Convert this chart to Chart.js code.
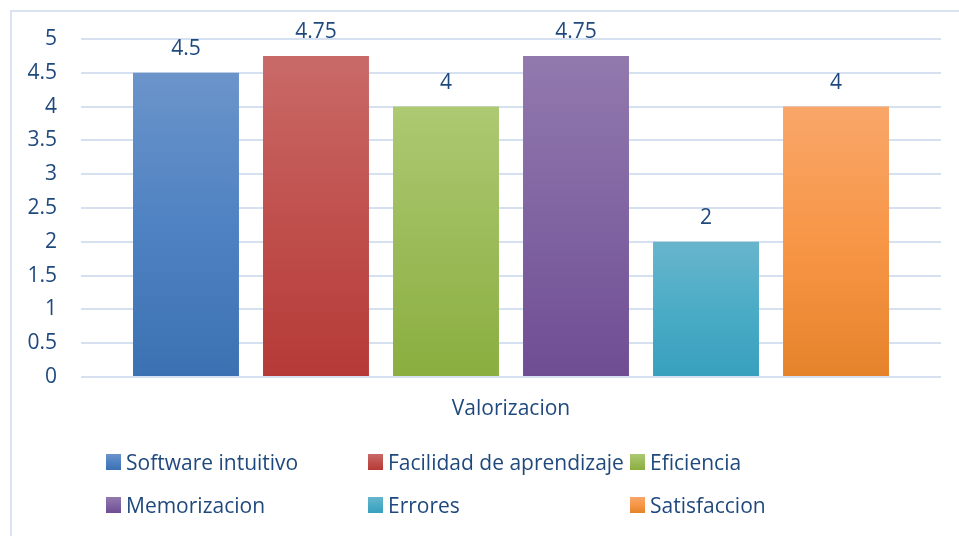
<!DOCTYPE html>
<html>
<head>
<meta charset="utf-8">
<script src="https://cdn.jsdelivr.net/npm/chart.js@4"></script>
<style>
  html, body { margin: 0; padding: 0; background: #fff; overflow: hidden; }
  #wrap { position: relative; width: 959px; height: 536px; }
  #frame { position: absolute; left: 10px; top: 10px; width: 1000px; height: 600px;
           border: 2px solid #dae3f2; box-sizing: border-box; pointer-events: none; }
  #legend { position: absolute; left: 0; top: 0; width: 959px; height: 536px; pointer-events: none;
            font-family: "Open Sans", sans-serif; font-size: 21px; color: #1f497d; }
  .item { position: absolute; height: 24px; line-height: 24px; white-space: nowrap; }
  .sw { position: absolute; left: 0; top: 4px; width: 15px; height: 16px; }
  .txt { position: absolute; left: 20px; top: 0; }
</style>
</head>
<body>
<div id="wrap">
  <canvas id="myChart" width="959" height="536"></canvas>
  <div id="frame"></div>
  <div id="legend"></div>
</div>
<script>
const categories = ["Valorizacion"];
const seriesNames = [
  "Software intuitivo",
  "Facilidad de aprendizaje",
  "Eficiencia",
  "Memorizacion",
  "Errores",
  "Satisfaccion",
];
const seriesValues = [4.5, 4.75, 4, 4.75, 2, 4];
// light top, main middle, darker bottom
const seriesColors = [
  ["#6b94ca", "#4f82c2", "#3b71b2"],
  ["#c96a68", "#c0504d", "#b53a37"],
  ["#adc972", "#9bbb59", "#8aae3f"],
  ["#9279ad", "#8064a2", "#6f4d93"],
  ["#68b5cc", "#4bacc6", "#379fbd"],
  ["#f9a66a", "#f79646", "#e5832b"],
];
const yMin = 0, yMax = 5, yStep = 0.5;

const textColor = "#1f497d";
const fontFamily = "'Open Sans', sans-serif";
const fontSize = 21;

function barGradient(idx) {
  return function (context) {
    const chart = context.chart;
    const area = chart.chartArea;
    const c = seriesColors[idx];
    if (!area || !chart.scales.y) return c[1];
    const top = chart.scales.y.getPixelForValue(seriesValues[idx]);
    const bottom = chart.scales.y.getPixelForValue(0);
    const g = chart.ctx.createLinearGradient(0, top, 0, bottom);
    g.addColorStop(0, c[0]);
    g.addColorStop(0.5, c[1]);
    g.addColorStop(1, c[2]);
    return g;
  };
}

const datasets = seriesNames.map((name, i) => ({
  label: name,
  data: [seriesValues[i]],
  backgroundColor: barGradient(i),
  borderWidth: 0,
  categoryPercentage: 0.907,
  barPercentage: 0.815,
}));

// value labels above each bar
const valueLabels = {
  id: "valueLabels",
  afterDatasetsDraw(chart) {
    const ctx = chart.ctx;
    ctx.save();
    ctx.font = fontSize + "px " + fontFamily;
    ctx.fillStyle = textColor;
    ctx.textAlign = "center";
    ctx.textBaseline = "alphabetic";
    chart.data.datasets.forEach((ds, i) => {
      chart.getDatasetMeta(i).data.forEach((bar, j) => {
        ctx.fillText(String(ds.data[j]), bar.x, bar.y - 18);
      });
    });
    ctx.restore();
  },
};

const ctx = document.getElementById("myChart");
new Chart(ctx, {
  type: "bar",
  data: { labels: categories, datasets: datasets },
  plugins: [valueLabels],
  options: {
    responsive: false,
    animation: false,
    layout: { padding: { top: 39, right: 18, bottom: 109, left: 0 } },
    plugins: {
      legend: { display: false },
      tooltip: { enabled: false },
    },
    scales: {
      x: {
        grid: { display: false, drawTicks: false },
        border: { display: false },
        ticks: { color: textColor, font: { family: fontFamily, size: fontSize }, padding: 19 },
        afterFit(scale) { scale.height = 50; },
      },
      y: {
        min: yMin,
        max: yMax,
        ticks: {
          stepSize: yStep,
          color: textColor,
          font: { family: fontFamily, size: fontSize },
          padding: 24,
          callback: (v) => String(v),
        },
        grid: { color: "#d5e0f0", lineWidth: 2, drawTicks: false },
        border: { display: false },
        afterFit(scale) { scale.width = 81; },
      },
    },
  },
});

// legend laid out in fixed columns like the original
const legend = document.getElementById("legend");
const colX = [106, 368, 630];
const rowY = [450, 493];
seriesNames.forEach((name, i) => {
  const c = seriesColors[i];
  const item = document.createElement("div");
  item.className = "item";
  item.style.left = colX[i % 3] + "px";
  item.style.top = rowY[Math.floor(i / 3)] + "px";
  const sw = document.createElement("div");
  sw.className = "sw";
  sw.style.background = "linear-gradient(" + c[0] + "," + c[1] + "," + c[2] + ")";
  const txt = document.createElement("span");
  txt.className = "txt";
  txt.textContent = name;
  item.appendChild(sw);
  item.appendChild(txt);
  legend.appendChild(item);
});
</script>
</body>
</html>
